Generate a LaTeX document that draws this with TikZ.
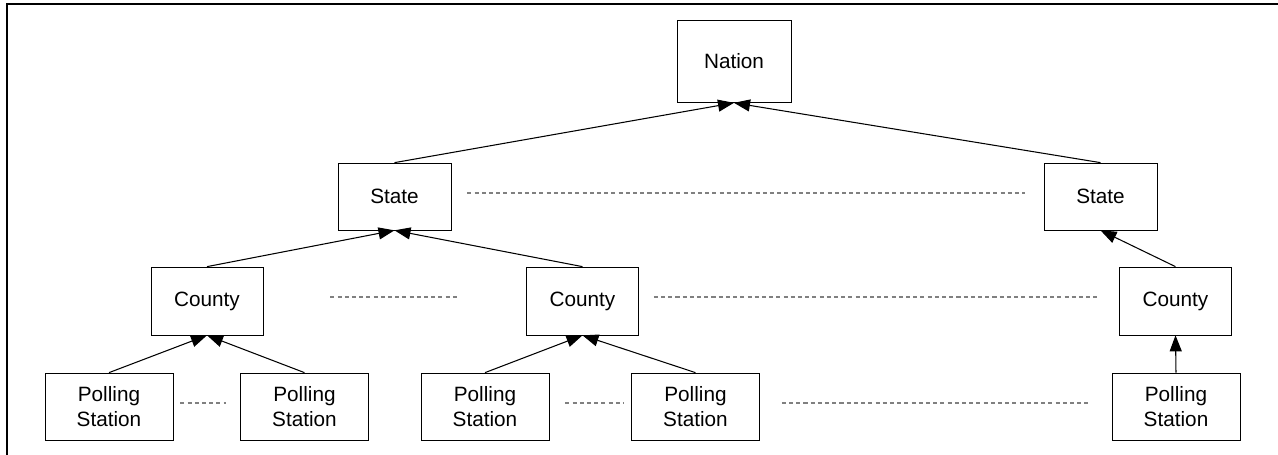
\documentclass[tikz,border=0pt]{standalone}
\usepackage{fontspec}
\setmainfont{Liberation Sans}
\usetikzlibrary{arrows.meta}
\begin{document}
\begin{tikzpicture}[draw = black,
  box/.style = {draw, fill = white, inner sep = 0pt, align = center, font = \fontsize{11.8}{14.2}\selectfont},
  up/.style = {-{Triangle[length = 0.32cm, width = 0.24cm]}, semithick},
  gap/.style = {draw = black!50, dash pattern = on 2.3pt off 1.8pt, semithick}]
\useasboundingbox (0,0) rectangle (25.56,9.10);
\draw[thick] (0.14,0) -- (0.14,9.02) -- (25.56,9.02);
\node[box, minimum width = 2.28cm, minimum height = 1.64cm] (nation) at (14.68,7.87) {Nation};
\node[box, minimum width = 2.26cm, minimum height = 1.34cm] (state1) at (7.89,5.17) {State};
\node[box, minimum width = 2.26cm, minimum height = 1.34cm] (state2) at (22.01,5.17) {State};
\node[box, minimum width = 2.24cm, minimum height = 1.36cm] (county1) at (4.14,3.08) {County};
\node[box, minimum width = 2.24cm, minimum height = 1.36cm] (county2) at (11.65,3.08) {County};
\node[box, minimum width = 2.24cm, minimum height = 1.36cm] (county3) at (23.51,3.08) {County};
\node[box, minimum width = 2.56cm, minimum height = 1.34cm] (poll1) at (2.18,0.97) {Polling\\Station};
\node[box, minimum width = 2.56cm, minimum height = 1.34cm] (poll2) at (6.09,0.97) {Polling\\Station};
\node[box, minimum width = 2.56cm, minimum height = 1.34cm] (poll3) at (9.70,0.97) {Polling\\Station};
\node[box, minimum width = 2.56cm, minimum height = 1.34cm] (poll4) at (13.91,0.97) {Polling\\Station};
\node[box, minimum width = 2.56cm, minimum height = 1.34cm] (poll5) at (23.52,0.97) {Polling\\Station};
\draw[up] (state1.north) -- (nation.south);
\draw[up] (state2.north) -- (nation.south);
\draw[up] (county1.north) -- (state1.south);
\draw[up] (county2.north) -- (state1.south);
\draw[up] (county3.north) -- (state2.south);
\draw[up] (poll1.north) -- (county1.south);
\draw[up] (poll2.north) -- (county1.south);
\draw[up] (poll3.north) -- (county2.south);
\draw[up] (poll4.north) -- (county2.south);
\draw[up] (poll5.north) -- (county3.south);
\draw[gap] ([xshift = 0.32cm, yshift = 0.07cm]state1.east) -- ([xshift = -0.38cm, yshift = 0.07cm]state2.west);
\draw[gap] ([xshift = 1.34cm, yshift = 0.08cm]county1.east) -- ([xshift = -1.38cm, yshift = 0.08cm]county2.west);
\draw[gap] ([xshift = 0.30cm, yshift = 0.08cm]county2.east) -- ([xshift = -0.44cm, yshift = 0.08cm]county3.west);
\draw[gap] ([xshift = 0.14cm, yshift = 0.07cm]poll1.east) -- ([xshift = -0.28cm, yshift = 0.07cm]poll2.west);
\draw[gap] ([xshift = 0.32cm, yshift = 0.07cm]poll3.east) -- ([xshift = -0.16cm, yshift = 0.07cm]poll4.west);
\draw[gap] ([xshift = 0.44cm, yshift = 0.07cm]poll4.east) -- ([xshift = -0.48cm, yshift = 0.07cm]poll5.west);
\end{tikzpicture}
\end{document}
